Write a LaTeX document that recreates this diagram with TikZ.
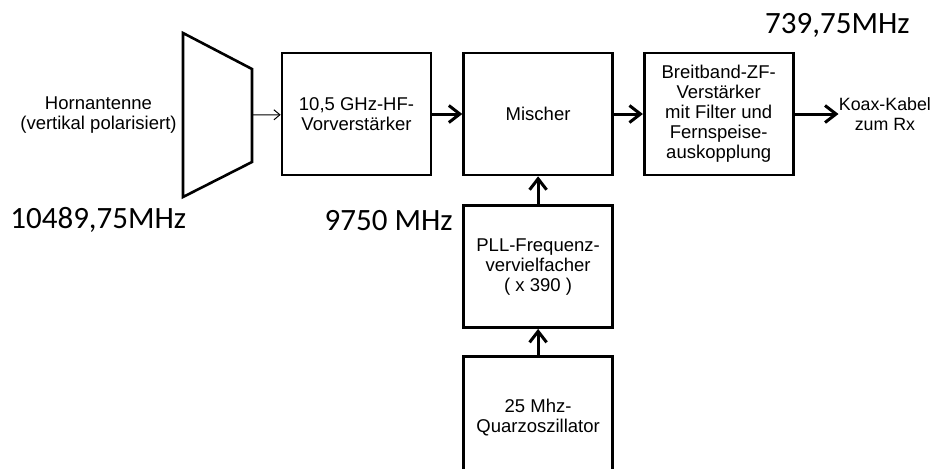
\documentclass[tikz,border=0pt]{standalone}
\usepackage{fontspec}
\setmainfont{Liberation Sans}
\newfontfamily\freqfont{Carlito}
\usetikzlibrary{positioning, arrows.meta}

\begin{document}
\begin{tikzpicture}[
  x=0.5pt, y=-0.5pt,
  node distance=14pt and 15pt,
  every node/.style={font=\fontsize{9.25}{10}\selectfont},
  block/.style={rectangle, draw, line width=1.3pt, minimum width=74.5pt,
                minimum height=61pt, align=center},
  txt/.style={align=center, inner sep=0pt},
  freq/.style={inner sep=0pt, font=\freqfont\fontsize{15.5}{18}\selectfont},
  arrow/.style={-{Straight Barb[length=5.5pt, width=8.5pt]}, line width=1.5pt},
  thinarrow/.style={-{Straight Barb[length=3pt, width=5pt]}, line width=0.5pt},
]
  \useasboundingbox (0,0) rectangle (934,468);

  % horn antenna
  \draw[line width=1.3pt, line join=miter] (183,33) -- (252,69) -- (252,162) -- (183,197) -- cycle;
  \coordinate (horn) at (252,115);
  \coordinate (hornback) at (183,115);
  \node[txt, left=3pt of hornback] (hornlbl) {Hornantenne\\(vertikal polarisiert)};

  \node[block] (hf) at (356.5,114) {10,5 GHz-HF-\\Vorverst\"arker};
  \node[block, right=of hf] (mix) {Mischer};
  \node[block, right=14.5pt of mix] (zf) {Breitband-ZF-\\Verst\"arker\\mit Filter und\\Fernspeise-\\auskopplung};
  \node[txt, right=22pt of zf, font=\fontsize{8.9}{10}\selectfont] (koax) {Koax-Kabel\\zum Rx};
  \node[block, below=of mix] (pll) {PLL-Frequenz-\\vervielfacher\\( x 390 )};
  \node[block, below=13pt of pll] (quarz) {25 Mhz-\\Quarzoszillator};

  % frequencies
  \node[freq, anchor=base west] (f1) at (10,228) {10489,75MHz};
  \node[freq, anchor=base east] (f2) at (453,230) {9750 MHz};
  \node[freq, anchor=base east] (f3) at (910,33) {739,75MHz};

  \draw[thinarrow] (horn) -- (hf);
  \draw[arrow] (hf) -- (mix);
  \draw[arrow] (mix) -- (zf);
  \draw[arrow] (zf) -- (koax);
  \draw[arrow] (pll) -- (mix);
  \draw[arrow] (quarz) -- (pll);

\end{tikzpicture}
\end{document}
